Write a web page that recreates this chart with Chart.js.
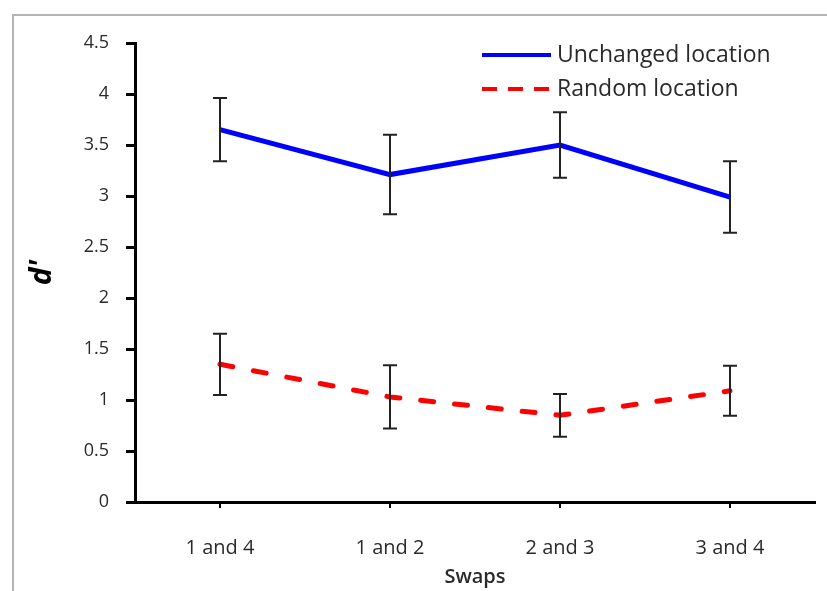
<!DOCTYPE html>
<html>
<head>
<meta charset="utf-8">
<script src="https://cdn.jsdelivr.net/npm/chart.js@4.4.1/dist/chart.umd.min.js"></script>
<style>
html,body{margin:0;padding:0;background:#fff;}
#wrap{position:relative;width:827px;height:591px;}
</style>
</head>
<body>
<div id="wrap"><canvas id="c" width="827" height="591"></canvas></div>
<script>
const categories = ["1 and 4", "1 and 2", "2 and 3", "3 and 4"];
const unchangedValues = [3.65, 3.21, 3.50, 2.99];
const unchangedErrors = [0.31, 0.39, 0.32, 0.35];
const randomValues = [1.35, 1.03, 0.85, 1.09];
const randomErrors = [0.30, 0.31, 0.21, 0.245];
const yTicks = [0, 0.5, 1, 1.5, 2, 2.5, 3, 3.5, 4, 4.5];
const seriesLabels = ["Unchanged location", "Random location"];
const xTitle = "Swaps";
const yTitle = "d'";

const FONT = "'Open Sans', 'DejaVu Sans', sans-serif";
const TEXT = "#2a2a2a";

const framePlugin = {
  id: 'frame',
  beforeDraw(chart) {
    const ctx = chart.ctx;
    ctx.save();
    ctx.fillStyle = '#fff';
    ctx.fillRect(0, 0, chart.width, chart.height);
    ctx.strokeStyle = '#b4b4b4';
    ctx.lineWidth = 2;
    ctx.strokeRect(13, 15, 900, 700);
    ctx.restore();
  }
};

const errorBarPlugin = {
  id: 'errorBars',
  afterDatasetsDraw(chart) {
    const ctx = chart.ctx;
    const x = chart.scales.x, y = chart.scales.y;
    ctx.save();
    ctx.strokeStyle = '#222';
    ctx.lineWidth = 2;
    chart.data.datasets.forEach(ds => {
      ds.data.forEach((v, i) => {
        const e = ds.errors[i];
        const px = x.getPixelForValue(i);
        const top = y.getPixelForValue(v + e);
        const bot = y.getPixelForValue(v - e);
        ctx.beginPath();
        ctx.moveTo(px, top); ctx.lineTo(px, bot);
        ctx.moveTo(px - 7, top); ctx.lineTo(px + 7, top);
        ctx.moveTo(px - 7, bot); ctx.lineTo(px + 7, bot);
        ctx.stroke();
      });
    });
    ctx.restore();
  }
};

const legendPlugin = {
  id: 'customLegend',
  afterDraw(chart) {
    const ctx = chart.ctx;
    ctx.save();
    const rows = [55, 89];
    chart.data.datasets.forEach((ds, i) => {
      const yy = rows[i];
      ctx.strokeStyle = ds.borderColor;
      ctx.lineWidth = 4;
      ctx.lineCap = 'butt';
      ctx.setLineDash(ds.borderDash && ds.borderDash.length ? [15, 11] : []);
      ctx.beginPath();
      ctx.moveTo(482, yy); ctx.lineTo(551, yy);
      ctx.stroke();
      ctx.setLineDash([]);
      ctx.fillStyle = TEXT;
      ctx.font = "23px " + FONT;
      ctx.textBaseline = 'middle';
      ctx.textAlign = 'left';
      ctx.fillText(ds.label, 557, yy);
    });
    ctx.restore();
  }
};

new Chart(document.getElementById('c'), {
  type: 'line',
  data: {
    labels: categories,
    datasets: [
      {
        label: seriesLabels[0],
        data: unchangedValues,
        errors: unchangedErrors,
        borderColor: '#0000ff',
        borderWidth: 5,
        pointRadius: 0,
        tension: 0,
        fill: false
      },
      {
        label: seriesLabels[1],
        data: randomValues,
        errors: randomErrors,
        borderColor: '#ff0000',
        borderWidth: 5,
        borderDash: [13, 21],
        borderCapStyle: 'round',
        pointRadius: 0,
        tension: 0,
        fill: false
      }
    ]
  },
  options: {
    responsive: false,
    animation: false,
    layout: { padding: { left: 22, top: 43, right: 12, bottom: 1 } },
    plugins: { legend: { display: false }, tooltip: { enabled: false } },
    scales: {
      x: {
        type: 'category',
        offset: true,
        afterFit(s) { s.height = 88; },
        grid: { offset: false, drawOnChartArea: false, color: '#000', lineWidth: 2, tickLength: 6 },
        border: { display: true, color: '#000', width: 3 },
        ticks: { color: TEXT, font: { family: FONT, size: 20 }, padding: 28, maxRotation: 0 },
        title: { display: true, text: xTitle, color: TEXT, font: { family: FONT, size: 20, weight: '600' }, padding: { top: 0, bottom: 1 } }
      },
      y: {
        min: 0, max: 4.5,
        afterFit(s) { s.width = 113; },
        afterBuildTicks(s) { s.ticks = yTicks.map(v => ({ value: v })); },
        grid: { drawOnChartArea: false, color: '#000', lineWidth: 3, tickLength: 9 },
        border: { display: true, color: '#000', width: 3 },
        ticks: { color: TEXT, font: { family: FONT, size: 18 }, padding: 17, callback: v => String(v) },
        title: { display: true, text: yTitle, color: '#000', font: { family: FONT, size: 30, weight: 'bold', style: 'italic' }, padding: { top: 2, bottom: 4 } }
      }
    }
  },
  plugins: [framePlugin, errorBarPlugin, legendPlugin]
});
</script>
</body>
</html>
